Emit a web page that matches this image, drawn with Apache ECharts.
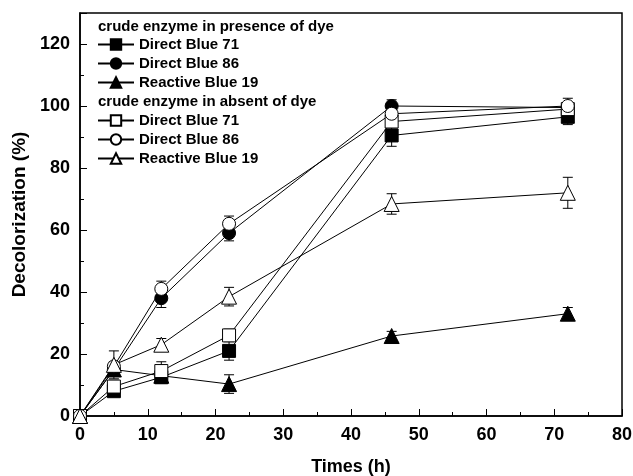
<!DOCTYPE html>
<html>
<head>
<meta charset="utf-8">
<script src="https://cdn.jsdelivr.net/npm/echarts@6/dist/echarts.min.js"></script>
<style>
  html, body { margin: 0; padding: 0; background: #fff; }
  #chart { width: 633px; height: 476px; }
</style>
</head>
<body>
<div id="chart"></div>
<script>
// Sampling times (h)
const times = [0, 5, 12, 22, 46, 72];

// crude enzyme in presence of dye
const presDB71 = [0, 8, 12.5, 21, 90.5, 96.5];
const presDB86 = [0, 15, 38, 59, 100, 99.5];
const presRB19 = [0, 15, 13, 10.3, 25.8, 33];
// crude enzyme in absent of dye
const absDB71 = [0, 9.5, 14.5, 26, 95, 99];
const absDB86 = [0, 16, 41, 62, 97.5, 100];
const absRB19 = [0, 16.5, 23, 38.5, 68.4, 72];

// standard deviations (error bars)
const errPresDB71 = [0, 1.5, 1.5, 3, 3.5, 2.5];
const errPresDB86 = [0, 1.5, 3, 2.5, 2, 1.5];
const errPresRB19 = [0, 1.5, 1.5, 3, 1.5, 2];
const errAbsDB71 = [0, 2, 3, 2, 2, 1.5];
const errAbsDB86 = [0, 1.5, 2.5, 2.5, 2, 2.5];
const errAbsRB19 = [0, 4.5, 2, 3, 3.3, 5];

const xTicks = { min: 0, max: 80, interval: 10 };
const yTicks = { min: 0, max: 130, interval: 20 };

const FONT = 'Liberation Sans';

function pts(ys) {
  return times.map((t, i) => [t, ys[i]]);
}

function errData(ys, es) {
  return times.map((t, i) => [t, ys[i] - es[i], ys[i] + es[i]]);
}

function lineSeries(name, ys, symbol, filled) {
  return {
    name,
    type: 'line',
    data: pts(ys),
    symbol,
    symbolSize: symbol === 'triangle' ? 15 : 13,
    showAllSymbol: true,
    z: 3,
    lineStyle: { color: '#000', width: 1 },
    itemStyle: {
      color: filled ? '#000' : '#fff',
      borderColor: '#000',
      borderWidth: 1
    },
    emphasis: { disabled: true }
  };
}

function errorSeries(ys, es) {
  return {
    type: 'custom',
    data: errData(ys, es),
    z: 2,
    silent: true,
    renderItem(params, api) {
      const top = api.coord([api.value(0), api.value(2)]);
      const bot = api.coord([api.value(0), api.value(1)]);
      const w = 5;
      const style = { stroke: '#000', lineWidth: 1 };
      return {
        type: 'group',
        children: [
          { type: 'line', shape: { x1: top[0], y1: top[1], x2: bot[0], y2: bot[1] }, style },
          { type: 'line', shape: { x1: top[0] - w, y1: top[1], x2: top[0] + w, y2: top[1] }, style },
          { type: 'line', shape: { x1: bot[0] - w, y1: bot[1], x2: bot[0] + w, y2: bot[1] }, style }
        ]
      };
    }
  };
}

const chart = echarts.init(document.getElementById('chart'), null, { renderer: 'canvas' });

const legendCommon = {
  left: 92,
  orient: 'vertical',
  itemWidth: 36,
  itemHeight: 13,
  itemGap: 4,
  padding: [0, 5],
  textStyle: { fontFamily: FONT, fontWeight: 'bold', fontSize: 15, color: '#000' },
  selectedMode: false
};

chart.setOption({
  animation: false,
  backgroundColor: '#fff',
  grid: {
    left: 80, right: 11, top: 13, bottom: 60,
    outerBoundsMode: 'none',
    show: true, borderColor: '#000', borderWidth: 1.5,
    backgroundColor: 'transparent'
  },
  graphic: [
    { type: 'text', left: 98, top: 19, style: { text: 'crude enzyme in presence of dye', font: 'bold 15px "Liberation Sans"', fill: '#000' } },
    { type: 'text', left: 98, top: 94, style: { text: 'crude enzyme in absent of dye', font: 'bold 15px "Liberation Sans"', fill: '#000' } }
  ],
  legend: [
    Object.assign({ top: 37, data: ['Direct Blue 71', 'Direct Blue 86', 'Reactive Blue 19'] }, legendCommon),
    Object.assign({ top: 113, data: ['Direct Blue 71 ', 'Direct Blue 86 ', 'Reactive Blue 19 '] }, legendCommon)
  ],
  xAxis: {
    type: 'value',
    min: xTicks.min, max: xTicks.max, interval: xTicks.interval,
    name: 'Times (h)',
    nameLocation: 'middle',
    nameGap: 42,
    nameTextStyle: { fontFamily: FONT, fontWeight: 'bold', fontSize: 18, color: '#000' },
    axisLine: { onZero: false, lineStyle: { color: '#000', width: 1.5 } },
    axisTick: { inside: true, length: 7, lineStyle: { color: '#000' } },
    minorTick: { show: true, splitNumber: 2, length: 4, lineStyle: { color: '#000' } },
    axisLabel: { fontFamily: FONT, fontWeight: 'bold', fontSize: 18, color: '#000', margin: 10 },
    splitLine: { show: false }
  },
  yAxis: {
    type: 'value',
    min: yTicks.min, max: yTicks.max, interval: yTicks.interval,
    name: 'Decolorization (%)',
    nameLocation: 'middle',
    nameGap: 48,
    nameTextStyle: { fontFamily: FONT, fontWeight: 'bold', fontSize: 19, color: '#000' },
    axisLine: { onZero: false, lineStyle: { color: '#000', width: 1.5 } },
    axisTick: { inside: true, length: 7, lineStyle: { color: '#000' } },
    minorTick: { show: true, splitNumber: 2, length: 4, lineStyle: { color: '#000' } },
    axisLabel: {
      fontFamily: FONT, fontWeight: 'bold', fontSize: 18, color: '#000', margin: 10,
      formatter: v => (v % 20 === 0 ? String(v) : '')
    },
    splitLine: { show: false }
  },
  series: [
    errorSeries(presDB71, errPresDB71),
    errorSeries(presDB86, errPresDB86),
    errorSeries(presRB19, errPresRB19),
    errorSeries(absDB71, errAbsDB71),
    errorSeries(absDB86, errAbsDB86),
    errorSeries(absRB19, errAbsRB19),
    lineSeries('Direct Blue 71', presDB71, 'rect', true),
    lineSeries('Direct Blue 86', presDB86, 'circle', true),
    lineSeries('Reactive Blue 19', presRB19, 'triangle', true),
    lineSeries('Direct Blue 71 ', absDB71, 'rect', false),
    lineSeries('Direct Blue 86 ', absDB86, 'circle', false),
    lineSeries('Reactive Blue 19 ', absRB19, 'triangle', false)
  ]
});
</script>
</body>
</html>
